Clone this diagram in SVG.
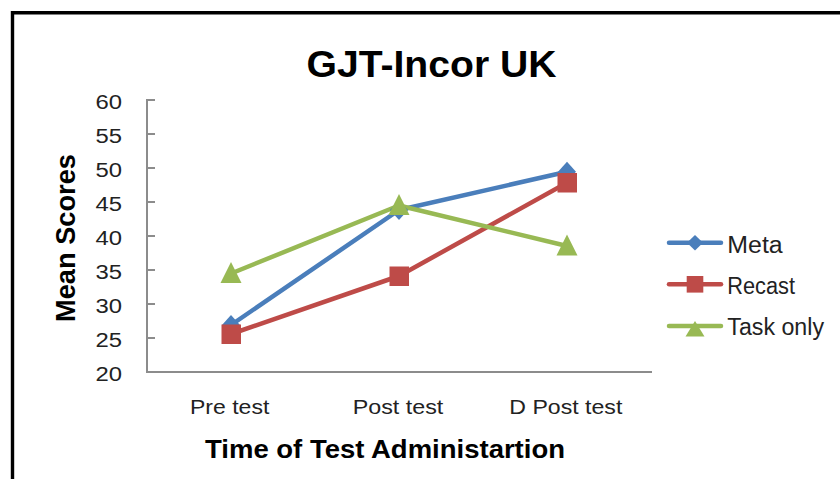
<svg xmlns="http://www.w3.org/2000/svg" width="840" height="479" viewBox="0 0 840 479">
<style>
text{font-family:"Liberation Sans",Arial,sans-serif;fill:#000}
.tick{font-size:20px;text-anchor:end;fill:#222}
.cat{font-size:20px;fill:#222}
.leg{font-size:23px;fill:#222}
.ax{stroke:#8c8c8c;stroke-width:2;fill:none}
.meta{stroke:#4a7ebb;stroke-width:4.5;fill:none;stroke-linejoin:round;stroke-linecap:round}
.recast{stroke:#be4b48;stroke-width:4.5;fill:none;stroke-linejoin:round;stroke-linecap:round}
.task{stroke:#98b954;stroke-width:4.5;fill:none;stroke-linejoin:round;stroke-linecap:round}
.mb{fill:#4a7ebb}
.mr{fill:#be4b48}
.mg{fill:#98b954}
</style>
<rect width="840" height="479" fill="#fff"/>
<path d="M12.5,479 V12.7 H840" fill="none" stroke="#000" stroke-width="3.4"/>
<text id="title" x="306.5" y="76.7" font-size="37" font-weight="bold" textLength="250" lengthAdjust="spacingAndGlyphs">GJT-Incor UK</text>
<g id="y-axis">
<path class="ax" d="M147,99 V372 M147,100 H155 M147,134 H155 M147,168 H155 M147,202 H155 M147,236 H155 M147,270 H155 M147,304 H155 M147,338 H155"/>
<text class="tick" x="122" y="109" textLength="26.5" lengthAdjust="spacingAndGlyphs">60</text>
<text class="tick" x="122" y="143" textLength="26.5" lengthAdjust="spacingAndGlyphs">55</text>
<text class="tick" x="122" y="177" textLength="26.5" lengthAdjust="spacingAndGlyphs">50</text>
<text class="tick" x="122" y="211" textLength="26.5" lengthAdjust="spacingAndGlyphs">45</text>
<text class="tick" x="122" y="245" textLength="26.5" lengthAdjust="spacingAndGlyphs">40</text>
<text class="tick" x="122" y="279" textLength="26.5" lengthAdjust="spacingAndGlyphs">35</text>
<text class="tick" x="122" y="313" textLength="26.5" lengthAdjust="spacingAndGlyphs">30</text>
<text class="tick" x="122" y="347" textLength="26.5" lengthAdjust="spacingAndGlyphs">25</text>
<text class="tick" x="122" y="381" textLength="26.5" lengthAdjust="spacingAndGlyphs">20</text>
<text transform="translate(75,322) rotate(-90)" font-size="27" font-weight="bold" textLength="168" lengthAdjust="spacingAndGlyphs">Mean Scores</text>
</g>
<g id="x-axis">
<path class="ax" d="M146,372 H652"/>
<text class="cat" x="190" y="414.3" textLength="79.3" lengthAdjust="spacingAndGlyphs">Pre test</text>
<text class="cat" x="352.7" y="414.3" textLength="90.6" lengthAdjust="spacingAndGlyphs">Post test</text>
<text class="cat" x="509.3" y="414.3" textLength="113" lengthAdjust="spacingAndGlyphs">D Post test</text>
<text x="205" y="458" font-size="26" font-weight="bold" textLength="360" lengthAdjust="spacingAndGlyphs">Time of Test Administartion</text>
</g>
<g id="connectors">
<polyline class="meta" points="231,325 399,210 567,171.7"/>
<polyline class="recast" points="231,334 399,276 567,182.7"/>
<polyline class="task" points="231,273.5 399,205.5 567,246"/>
</g>
<g id="series-meta">
<path class="mb" d="M231,315 L240,325 L231,335 L222,325 Z"/>
<path class="mb" d="M399,200 L408,210 L399,220 L390,210 Z"/>
<path class="mb" d="M567,161.7 L576,171.7 L567,181.7 L558,171.7 Z"/>
</g>
<g id="series-recast">
<rect class="mr" x="221.5" y="324.5" width="19.5" height="19.5"/>
<rect class="mr" x="389.5" y="266.5" width="19.5" height="19.5"/>
<rect class="mr" x="557.5" y="173" width="19.5" height="19.5"/>
</g>
<g id="series-task">
<path class="mg" d="M231,262 L241.5,283 L220.5,283 Z"/>
<path class="mg" d="M399,194 L409.5,215 L388.5,215 Z"/>
<path class="mg" d="M567,234.5 L577.5,255.5 L556.5,255.5 Z"/>
</g>
<g id="legend-meta">
<line class="meta" x1="669" y1="242.7" x2="721" y2="242.7"/>
<path class="mb" d="M695,235 L703,242.7 L695,250.4 L687,242.7 Z"/>
<text class="leg" x="727.3" y="252.7" textLength="55.4" lengthAdjust="spacingAndGlyphs">Meta</text>
</g>
<g id="legend-recast">
<line class="recast" x1="669" y1="284.3" x2="721" y2="284.3"/>
<rect class="mr" x="686.7" y="276" width="16.6" height="16.6"/>
<text class="leg" x="727.3" y="293.5" textLength="67.7" lengthAdjust="spacingAndGlyphs">Recast</text>
</g>
<g id="legend-task">
<line class="task" x1="669" y1="326" x2="721" y2="326"/>
<path class="mg" d="M695,321 L704.5,336.5 L685.5,336.5 Z"/>
<text class="leg" x="727.3" y="335" textLength="96.7" lengthAdjust="spacingAndGlyphs">Task only</text>
</g>
</svg>
